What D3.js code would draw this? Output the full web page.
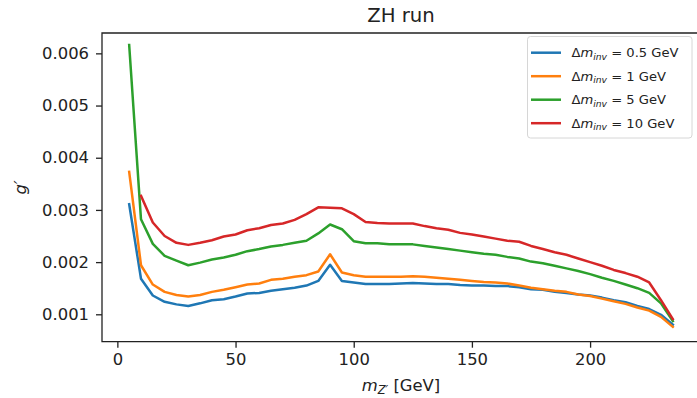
<!DOCTYPE html>
<html>
<head>
<meta charset="utf-8">
<script src="https://cdn.jsdelivr.net/npm/d3@7"></script>
<style>
  body { margin: 0; background: #fff; }
  svg { display: block; font-family: "DejaVu Sans", sans-serif; }
</style>
</head>
<body>
<div id="vis"></div>
<script>
// data
const MZ = [5, 10, 15, 20, 25, 30, 35, 40, 45, 50, 55, 60, 65, 70, 75, 80, 85, 90, 95, 100,
            105, 110, 115, 120, 125, 130, 135, 140, 145, 150, 155, 160, 165, 170, 175, 180,
            185, 190, 195, 200, 205, 210, 215, 220, 225, 230, 235];

const G_05 = [0.00311, 0.00168, 0.00136, 0.00124, 0.00119, 0.00116, 0.00121, 0.00127, 0.00129, 0.00134,
              0.00140, 0.00141, 0.00145, 0.00148, 0.00151, 0.00155, 0.00164, 0.00195, 0.00164, 0.00161,
              0.00158, 0.00158, 0.00158, 0.00159, 0.00160, 0.00159, 0.00158, 0.00158, 0.00156, 0.00155,
              0.00155, 0.00154, 0.00154, 0.00152, 0.00148, 0.00147, 0.00143, 0.00141, 0.00138, 0.00136,
              0.00132, 0.00127, 0.00123, 0.00116, 0.00110, 0.00099, 0.00080];

const G_1 = [0.00373, 0.00194, 0.00157, 0.00143, 0.00137, 0.00134, 0.00137, 0.00143, 0.00147, 0.00152,
             0.00157, 0.00159, 0.00166, 0.00168, 0.00172, 0.00175, 0.00182, 0.00215, 0.00180, 0.00175,
             0.00172, 0.00172, 0.00172, 0.00172, 0.00173, 0.00172, 0.00170, 0.00168, 0.00166, 0.00164,
             0.00162, 0.00161, 0.00159, 0.00155, 0.00151, 0.00148, 0.00145, 0.00143, 0.00138, 0.00135,
             0.00130, 0.00125, 0.00120, 0.00113, 0.00107, 0.00095, 0.00076];

const G_5 = [0.00616, 0.00282, 0.00235, 0.00212, 0.00203, 0.00194, 0.00199, 0.00205, 0.00209, 0.00214,
             0.00221, 0.00225, 0.00230, 0.00233, 0.00237, 0.00241, 0.00255, 0.00272, 0.00263, 0.00240,
             0.00236, 0.00236, 0.00234, 0.00234, 0.00234, 0.00231, 0.00228, 0.00225, 0.00222, 0.00219,
             0.00216, 0.00214, 0.00210, 0.00207, 0.00201, 0.00198, 0.00193, 0.00188, 0.00183, 0.00177,
             0.00170, 0.00164, 0.00157, 0.00150, 0.00141, 0.00121, 0.00087];

// no point at 5 GeV for this one
const G_10 = [null, 0.00327, 0.00276, 0.00250, 0.00237, 0.00233, 0.00237, 0.00242, 0.00249, 0.00253,
              0.00261, 0.00265, 0.00271, 0.00274, 0.00281, 0.00292, 0.00305, 0.00304, 0.00303, 0.00292,
              0.00277, 0.00275, 0.00274, 0.00274, 0.00274, 0.00269, 0.00265, 0.00262, 0.00256, 0.00253,
              0.00249, 0.00245, 0.00241, 0.00239, 0.00231, 0.00225, 0.00219, 0.00214, 0.00207, 0.00200,
              0.00193, 0.00185, 0.00179, 0.00172, 0.00161, 0.00127, 0.00091];

const SERIES = [G_05, G_1, G_5, G_10];
const LEGEND_VALUES = ["0.5", "1", "5", "10"];
const COLORS = ["#1f77b4", "#ff7f0e", "#2ca02c", "#d62728"];
const X_TICKS = [0, 50, 100, 150, 200];
const Y_TICKS = [0.001, 0.002, 0.003, 0.004, 0.005, 0.006];

// frame
const FRAME_WIDTH = 697;
const FRAME_HEIGHT = 398;
const MARGINS = {left: 102, top: 33};
const VIS_WIDTH = 598;
const VIS_HEIGHT = 308.7;

const svg = d3.select("#vis")
              .append("svg")
              .attr("width", FRAME_WIDTH)
              .attr("height", FRAME_HEIGHT);

const X_SCALE = d3.scaleLinear()
                  .domain([-6.5, 246.5])
                  .range([0, VIS_WIDTH]);

const Y_SCALE = d3.scaleLinear()
                  .domain([0.000475, 0.00639])
                  .range([VIS_HEIGHT, 0]);

svg.append("defs").append("clipPath")
   .attr("id", "clip")
   .append("rect")
   .attr("width", VIS_WIDTH)
   .attr("height", VIS_HEIGHT);

const plot = svg.append("g")
                .attr("transform", "translate(" + MARGINS.left + "," + MARGINS.top + ")");

// lines
const line = d3.line()
               .defined((d) => d[1] !== null)
               .x((d) => X_SCALE(d[0]))
               .y((d) => Y_SCALE(d[1]));

plot.append("g")
    .attr("clip-path", "url(#clip)")
    .selectAll("path")
    .data(SERIES)
    .join("path")
    .attr("d", (s) => line(MZ.map((m, i) => [m, s[i]])))
    .attr("fill", "none")
    .attr("stroke", (s, i) => COLORS[i])
    .attr("stroke-width", 2.5)
    .attr("stroke-linejoin", "round")
    .attr("stroke-linecap", "square");

// axes
const xAxis = plot.append("g")
    .attr("transform", "translate(0," + VIS_HEIGHT + ")")
    .call(d3.axisBottom(X_SCALE).tickValues(X_TICKS).tickSize(6).tickPadding(6).tickSizeOuter(0));

const yAxis = plot.append("g")
    .call(d3.axisLeft(Y_SCALE).tickValues(Y_TICKS).tickFormat(d3.format(".3f")).tickSize(6).tickPadding(7).tickSizeOuter(0));

[xAxis, yAxis].forEach((a) => {
  a.select(".domain").remove();
  a.selectAll("line").attr("stroke", "#222").attr("stroke-width", 1.3);
  a.selectAll("text").attr("font-size", "16.4px").attr("fill", "#222")
   .attr("font-family", "DejaVu Sans, sans-serif");
});

// spines (right one falls outside the picture)
plot.append("path")
    .attr("d", "M" + VIS_WIDTH + ",0H0V" + VIS_HEIGHT + "H" + VIS_WIDTH)
    .attr("fill", "none")
    .attr("stroke", "#222")
    .attr("stroke-width", 1.3);

// title
svg.append("text")
   .attr("x", MARGINS.left + VIS_WIDTH / 2)
   .attr("y", 22)
   .attr("text-anchor", "middle")
   .attr("font-size", "19.7px")
   .attr("fill", "#222")
   .text("ZH run");

// x label
const xl = svg.append("text")
   .attr("x", MARGINS.left + VIS_WIDTH / 2)
   .attr("y", 391)
   .attr("text-anchor", "middle")
   .attr("font-size", "16.4px")
   .attr("fill", "#222");
xl.append("tspan").attr("font-style", "italic").text("m");
xl.append("tspan").attr("font-style", "italic").attr("font-size", "11.5px").attr("dy", 3).text("Z′");
xl.append("tspan").attr("dy", -3).text(" [GeV]");

// y label
svg.append("text")
   .attr("transform", "translate(26," + (MARGINS.top + VIS_HEIGHT / 2) + ") rotate(-90)")
   .attr("text-anchor", "middle")
   .attr("font-size", "16.4px")
   .attr("font-style", "italic")
   .attr("fill", "#222")
   .text("g′");

// legend
const legend = svg.append("g").attr("transform", "translate(527.5,36.5)");
legend.append("rect")
      .attr("width", 164.5)
      .attr("height", 101.5)
      .attr("rx", 3)
      .attr("fill", "#fff")
      .attr("fill-opacity", 0.8)
      .attr("stroke", "#d6d6d6")
      .attr("stroke-width", 1);

const rows = legend.selectAll("g.row")
                   .data(LEGEND_VALUES)
                   .join("g")
                   .attr("class", "row")
                   .attr("transform", (d, i) => "translate(0," + (16.2 + i * 23.5) + ")");

rows.append("line")
    .attr("x1", 3.5)
    .attr("x2", 33.5)
    .attr("stroke", (d, i) => COLORS[i])
    .attr("stroke-width", 2.5);

const lt = rows.append("text")
    .attr("x", 44)
    .attr("y", 4.5)
    .attr("font-size", "13.1px")
    .attr("fill", "#222");
lt.append("tspan").text("Δ");
lt.append("tspan").attr("font-style", "italic").text("m");
lt.append("tspan").attr("font-style", "italic").attr("font-size", "9.2px").attr("dy", 2.5).text("inv");
lt.append("tspan").attr("dy", -2.5).text((d) => " = " + d + " GeV");
</script>
</body>
</html>
